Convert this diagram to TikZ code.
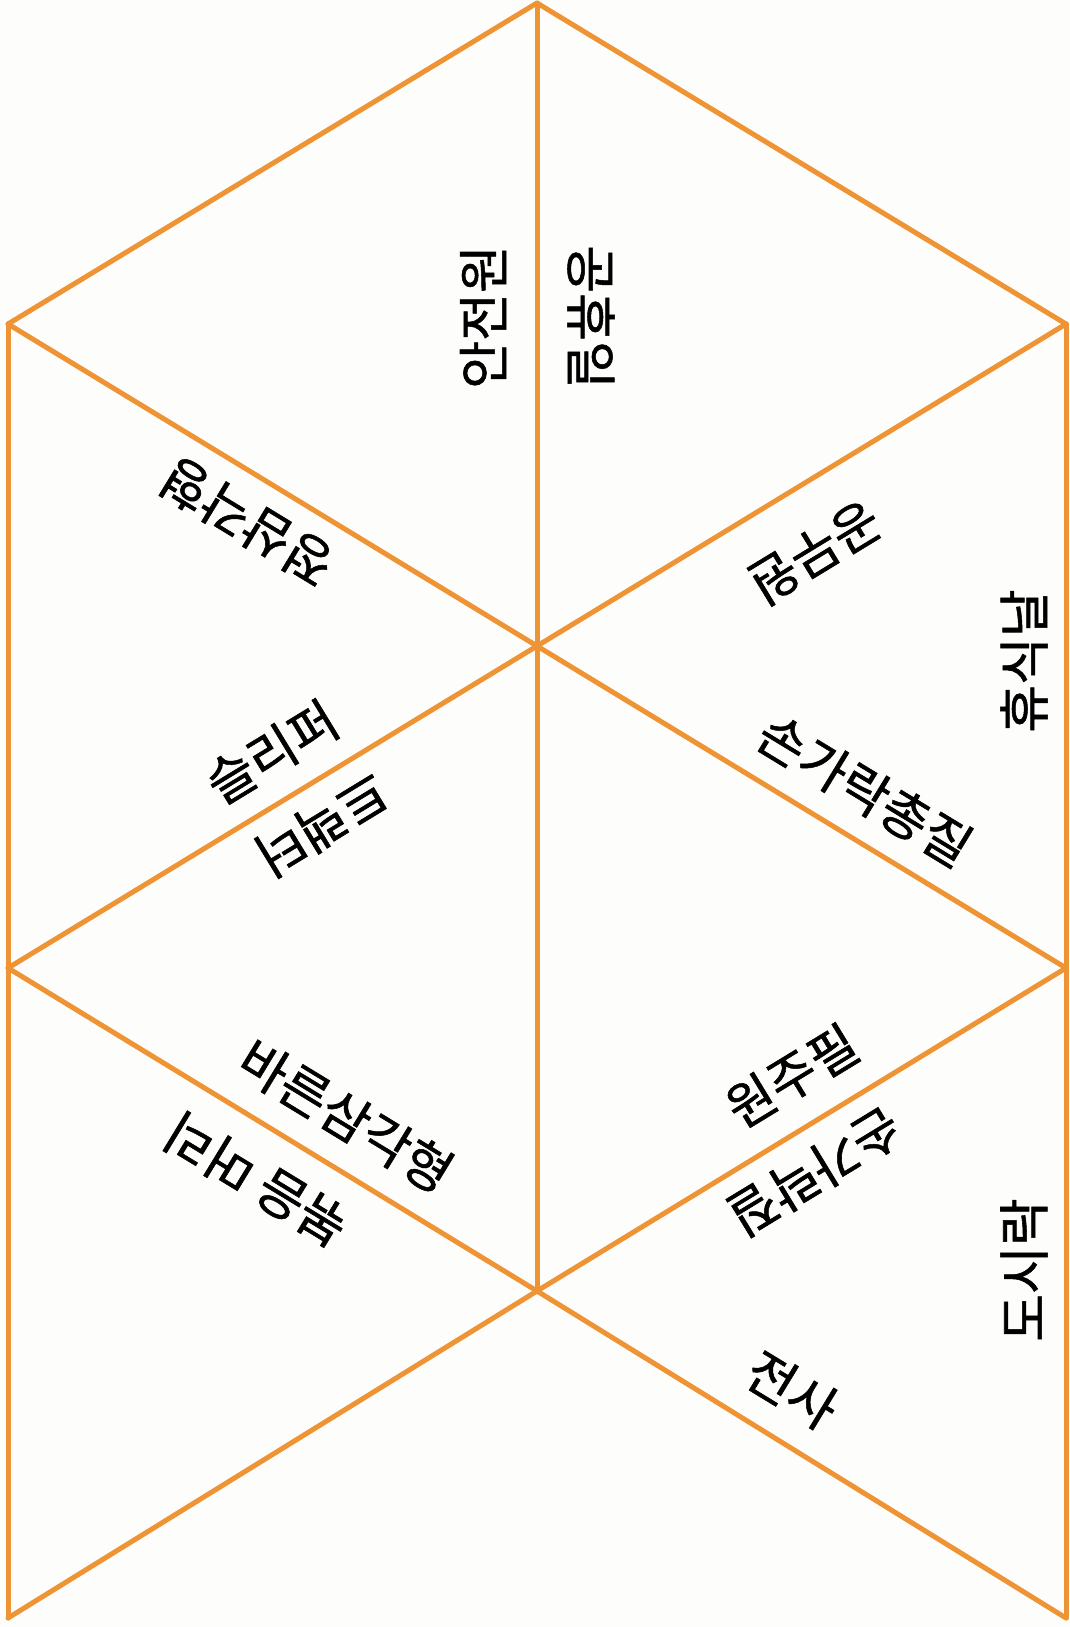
\documentclass[tikz,border=0pt]{standalone}
\usepackage{fontspec}
\newfontfamily\kr[FakeBold=1]{Noto Sans CJK KR}
\definecolor{lineor}{RGB}{239,148,52}
\definecolor{bgc}{RGB}{253,253,251}
\begin{document}
\begin{tikzpicture}[x=1pt,y=-1pt,
  edge/.style={draw=lineor, line width=5pt, line join=round, line cap=round},
  word/.style={font=\kr\fontsize{52}{56}\selectfont, inner sep=0pt, text=black}]
\fill[bgc] (0,0) rectangle (1070,1627);
\useasboundingbox (0,0) rectangle (1070,1627);
% vertices
\coordinate (A)  at (537,3);
\coordinate (L1) at (8,324);
\coordinate (R1) at (1066,324);
\coordinate (C1) at (537,646);
\coordinate (L2) at (8,968);
\coordinate (R2) at (1066,968);
\coordinate (C2) at (537,1291);
\coordinate (L3) at (8,1618);
\coordinate (R3) at (1066,1618);
% edges
\draw[edge] (L1) -- (A) -- (R1);
\draw[edge] (A) -- (C2);
\draw[edge] (L1) -- (L3);
\draw[edge] (R1) -- (R3);
\draw[edge] (L1) -- (C1) -- (R2);
\draw[edge] (R1) -- (C1) -- (L2);
\draw[edge] (L2) -- (C2) -- (R3);
\draw[edge] (R2) -- (C2) -- (L3);
% words
\node[word, rotate=90]      (w1)  at (483,317)  {안전원};
\node[word, rotate=-90]     (w2)  at (591,317)  {공휴일};
\node[word, rotate=148.67]  (w3)  at (247,522)  {정삼각형};
\node[word, rotate=211.33]  (w4)  at (815,553)  {공무원};
\node[word, rotate=90]      (w5)  at (1024,661) {휴식날};
\node[word, rotate=31.33]   (w6)  at (272,752)  {슬리퍼};
\node[word, rotate=211.33]  (w7)  at (322,825)  {트랙터};
\node[word, rotate=-31.33]  (w8)  at (865,790)  {손가락총질};
\node[word, rotate=-31.33]  (w9)  at (346,1116) {바른삼각형};
\node[word, rotate=148.67]  (w10) at (256,1180) {볶음 머리};
\node[word, rotate=31.33]   (w11) at (792,1076) {원주필};
\node[word, rotate=211.33]  (w12) at (815,1172) {손가락질};
\node[word, rotate=90]      (w13) at (1024,1270) {도시락};
\node[word, rotate=-31.33]  (w14) at (792,1390) {전사};
\end{tikzpicture}
\end{document}
